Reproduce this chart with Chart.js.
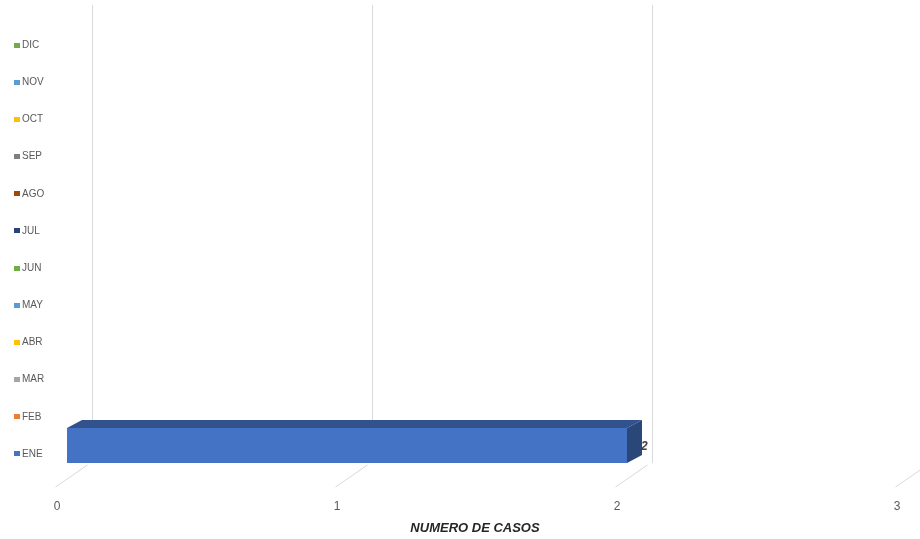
<!DOCTYPE html>
<html>
<head>
<meta charset="utf-8">
<script src="https://cdn.jsdelivr.net/npm/chart.js@4"></script>
<style>
  html, body { margin: 0; padding: 0; background: #fff; }
  #wrap { width: 920px; height: 539px; }
</style>
</head>
<body>
<div id="wrap"><canvas id="grafico"></canvas></div>
<script>
const meses = ["ENE", "FEB", "MAR", "ABR", "MAY", "JUN", "JUL", "AGO", "SEP", "OCT", "NOV", "DIC"];
const casos = [2, 0, 0, 0, 0, 0, 0, 0, 0, 0, 0, 0];
const colores = ["#4472C4", "#ED7D31", "#A5A5A5", "#FFC000", "#5B9BD5", "#70AD47",
                 "#264478", "#9E480E", "#7F7F7F", "#FFC000", "#5B9BD5", "#70AD47"];
const ticksX = [0, 1, 2, 3];

// profundidad del efecto 3D
const prof = { dx: 15, dy: -8 };
const pared = { dx: 25, top: 5, bottom: 463 };

const sombra = (hex, f) => {
  const n = parseInt(hex.slice(1), 16);
  const r = Math.round(((n >> 16) & 255) * f);
  const g = Math.round(((n >> 8) & 255) * f);
  const b = Math.round((n & 255) * f);
  return `rgb(${r},${g},${b})`;
};

const efecto3d = {
  id: "efecto3d",
  beforeDatasetsDraw(chart) {
    const { ctx } = chart;
    const x = chart.scales.x;
    ctx.save();
    ctx.strokeStyle = "#d9d9d9";
    ctx.lineWidth = 1;
    ticksX.forEach((v) => {
      const px = Math.round(x.getPixelForValue(v)) + 0.5;
      ctx.beginPath();
      ctx.moveTo(px + pared.dx, pared.top);
      ctx.lineTo(px + pared.dx, pared.bottom);
      ctx.stroke();
      ctx.beginPath();
      ctx.moveTo(px + pared.dx - 5, pared.bottom + 2);
      ctx.lineTo(px - 12, pared.bottom + 24);
      ctx.stroke();
    });
    ctx.restore();
  },
  afterDatasetsDraw(chart) {
    const { ctx } = chart;
    const meta = chart.getDatasetMeta(0);
    ctx.save();
    meta.data.forEach((el, i) => {
      if (!casos[i]) return;
      const top = el.y - el.height / 2;
      const bot = el.y + el.height / 2;
      // cara superior
      ctx.fillStyle = sombra(colores[i], 0.72);
      ctx.beginPath();
      ctx.moveTo(el.base, top);
      ctx.lineTo(el.base + prof.dx, top + prof.dy);
      ctx.lineTo(el.x + prof.dx, top + prof.dy);
      ctx.lineTo(el.x, top);
      ctx.closePath();
      ctx.fill();
      // cara lateral
      ctx.fillStyle = sombra(colores[i], 0.62);
      ctx.beginPath();
      ctx.moveTo(el.x, top);
      ctx.lineTo(el.x + prof.dx, top + prof.dy);
      ctx.lineTo(el.x + prof.dx, bot + prof.dy);
      ctx.lineTo(el.x, bot);
      ctx.closePath();
      ctx.fill();
      // etiqueta de valor
      ctx.fillStyle = "#404040";
      ctx.font = "italic bold 12px 'Liberation Sans', Arial, sans-serif";
      ctx.textAlign = "left";
      ctx.textBaseline = "middle";
      ctx.fillText(String(casos[i]), el.x + prof.dx - 1, el.y + 1);
    });

    // cuadros de color junto a los meses
    const y = chart.scales.y;
    meses.forEach((m, i) => {
      const py = y.getPixelForValue(i) + 8.5;
      ctx.fillStyle = colores[i];
      ctx.fillRect(14, Math.round(py - 2.5), 6, 5);
    });

    // titulo del eje
    ctx.fillStyle = "#262626";
    ctx.font = "italic bold 13px 'Liberation Sans', Arial, sans-serif";
    ctx.textAlign = "center";
    ctx.textBaseline = "middle";
    ctx.fillText("NUMERO DE CASOS", 475, 528);
    ctx.restore();
  },
};

new Chart(document.getElementById("grafico"), {
  type: "bar",
  data: {
    labels: meses,
    datasets: [{
      data: casos,
      backgroundColor: colores,
      borderWidth: 0,
      barPercentage: 0.94,
      categoryPercentage: 1,
    }],
  },
  options: {
    indexAxis: "y",
    responsive: true,
    maintainAspectRatio: false,
    animation: false,
    layout: { padding: { left: 22, right: 13, top: 18, bottom: 0 } },
    plugins: {
      legend: { display: false },
      tooltip: { enabled: false },
    },
    scales: {
      x: {
        min: 0,
        max: 3,
        afterBuildTicks: (s) => { s.ticks = ticksX.map((v) => ({ value: v })); },
        afterFit: (s) => { s.height = 75; s.paddingLeft = 0; s.paddingRight = 0; },
        grid: { display: false },
        border: { display: false },
        ticks: {
          padding: 27,
          labelOffset: -10,
          color: "#595959",
          font: { family: "'Liberation Sans', Arial, sans-serif", size: 12 },
        },
      },
      y: {
        reverse: true,
        afterFit: (s) => { s.width = 45; s.paddingTop = 0; s.paddingBottom = 0; },
        grid: { display: false },
        border: { display: false },
        ticks: {
          crossAlign: "far",
          labelOffset: 8.5,
          color: "#595959",
          font: { family: "'Liberation Sans', Arial, sans-serif", size: 10 },
        },
      },
    },
  },
  plugins: [efecto3d],
});
</script>
</body>
</html>
